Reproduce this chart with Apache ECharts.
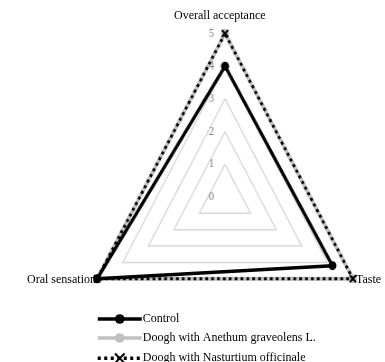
<!DOCTYPE html>
<html lang="en">
<head>
<meta charset="UTF-8">
<title>Radar</title>
<style>
  body { margin: 0; background: #fff; overflow: hidden; }
  #radar { position: absolute; left: 0; top: 0; width: 385px; height: 362px;
           transform-origin: 225px 0; transform: scaleX(0.903); }
  #legend { position: absolute; left: 0; top: 0; width: 385px; height: 390px; }
</style>
</head>
<body>
<div id="radar"></div>
<div id="legend"></div>
<script src="https://cdn.jsdelivr.net/npm/echarts@6/dist/echarts.min.js"></script>
<script>
// axes go counter-clockwise from the top
var attributes = ['Overall acceptance', 'Oral sensation', 'Taste'];
var axisMax = 5;
var seriesNames = ['Control', 'Doogh with Anethum graveolens L.', 'Doogh with Nasturtium officinale'];
var control = [4.0, 5.0, 4.2];
var anethum = [5.0, 5.0, 5.0];
var nasturtium = [5.0, 5.0, 5.0];

var font = 'Liberation Serif, Times New Roman, serif';
var xMark = 'path://M0,0L10,10M10,0L0,10';

var styles = [
    { symbol: 'circle', symbolSize: 9,
      lineStyle: { color: '#000', width: 3.5 }, itemStyle: { color: '#000' } },
    { symbol: 'circle', symbolSize: 9,
      lineStyle: { color: '#c0c0c0', width: 4 }, itemStyle: { color: '#c0c0c0' } },
    { symbol: xMark, symbolSize: 7,
      lineStyle: { color: '#000', width: 3, type: [3, 3.5] },
      itemStyle: { color: 'none', borderColor: '#000', borderWidth: 2 } }
];
var values = [control, anethum, nasturtium];
var drawOrder = [1, 2, 0];

var indicators = attributes.map(function (a, i) {
    var ind = { name: a, min: 0, max: axisMax };
    if (i === 0) ind.axisLabel = { show: true, color: '#7f7f7f', fontFamily: font, fontSize: 12, margin: 12 };
    return ind;
});

var radarChart = echarts.init(document.getElementById('radar'));
radarChart.setOption({
    animation: false,
    radar: {
        center: [225, 197],
        radius: 163.5,
        shape: 'polygon',
        startAngle: 90,
        splitNumber: 5,
        indicator: indicators,
        axisName: { show: false },
        axisLine: { show: false },
        axisTick: { show: false },
        splitArea: { show: false },
        splitLine: { lineStyle: { color: '#d9d9d9', width: 1.5 } }
    },
    series: drawOrder.map(function (k, j) {
        var s = styles[k];
        return {
            type: 'radar', name: seriesNames[k], z: 3 + j,
            symbol: s.symbol, symbolSize: s.symbolSize,
            lineStyle: s.lineStyle, itemStyle: s.itemStyle,
            data: [{ name: seriesNames[k], value: values[k] }]
        };
    })
});

// legend and axis names drawn unscaled on top
var legendChart = echarts.init(document.getElementById('legend'));
legendChart.setOption({
    animation: false,
    grid: { left: -500, top: -500, width: 10, height: 10 },
    xAxis: { show: false, type: 'category', data: attributes },
    yAxis: { show: false, min: 0, max: axisMax },
    legend: {
        orient: 'vertical',
        left: 96,
        top: 313,
        padding: 0,
        itemWidth: 44,
        itemHeight: 12,
        itemGap: 7,
        data: seriesNames,
        lineStyle: { width: 3.5 },
        textStyle: { fontFamily: font, fontSize: 12, color: '#000', padding: [0, 0, 0, -4] }
    },
    graphic: [
        { type: 'text', left: 174, top: 10, style: { text: attributes[0], font: '12px ' + font, fill: '#000' } },
        { type: 'text', right: 289, top: 274, style: { text: attributes[1], font: '12px ' + font, fill: '#000' } },
        { type: 'text', left: 356, top: 274, style: { text: attributes[2], font: '12px ' + font, fill: '#000' } }
    ],
    series: styles.map(function (s, k) {
        return {
            type: 'line', name: seriesNames[k],
            symbol: s.symbol, symbolSize: s.symbolSize,
            lineStyle: s.lineStyle, itemStyle: s.itemStyle,
            data: values[k]
        };
    })
});
</script>
</body>
</html>
